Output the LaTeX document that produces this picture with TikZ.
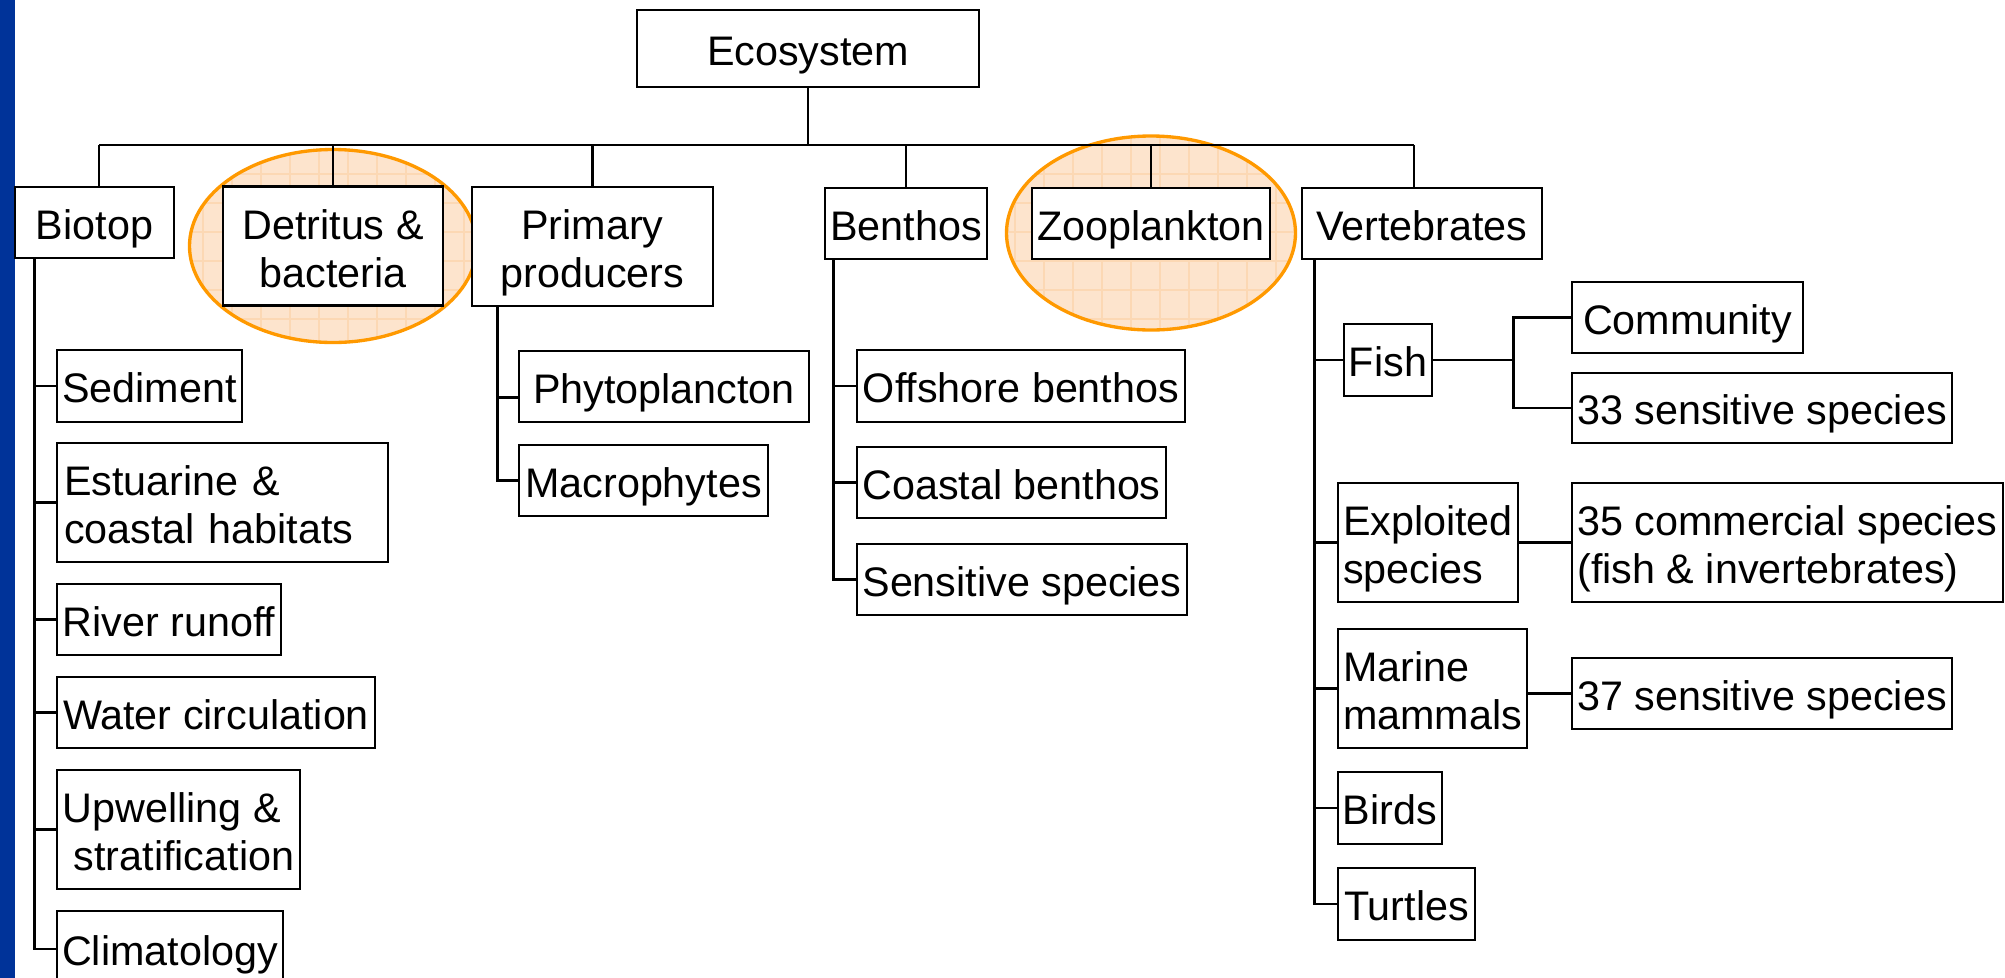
\documentclass[tikz,border=0pt]{standalone}
\usepackage{fontspec}
\setmainfont{Liberation Sans}
\usepackage{tikz}
\usetikzlibrary{positioning,calc,backgrounds}
\definecolor{barblue}{RGB}{0,51,153}
\definecolor{haloorange}{RGB}{255,153,0}
\definecolor{halofill}{RGB}{253,228,205}
\definecolor{halogrid}{RGB}{252,216,180}
\newcommand{\diagfont}{\fontsize{11.75pt}{13.66pt}\selectfont}
% struts for the two-line boxes
\newcommand{\firstln}{\rule{0pt}{0.51cm}}
\newcommand{\lastln}{\rule[-0.17cm]{0pt}{0.17cm}}
\tikzset{
    box/.style={
        draw,
        line width=0.8pt,
        fill=white,
        inner sep=0pt,
        align=left,
        font=\diagfont
    },
    topbox/.style={
        box,
        align=center
    },
    oneline/.style={
        text height=0.426cm,
        text depth=0.09cm,
        minimum height=0.71cm
    },
    twoline/.style={minimum height=1.19cm},
    link/.style={line width=0.75pt},
    halo/.style={
        draw=haloorange,
        line width=0.95pt
    }
}

\begin{document}
\begin{tikzpicture}
\useasboundingbox (0,0) rectangle (20.05,-9.78);
\fill[barblue] (0,0) rectangle (0.15,-9.78);

% TOP LEVEL
\node[topbox, oneline, minimum width=3.42cm, minimum height=0.77cm] (eco) at (8.08,-0.485)
{Ecosystem};

\node[topbox, oneline, minimum width=1.59cm] (biotop) at (0.945,-2.225)
{Biotop};

\node[topbox, twoline, minimum width=2.20cm] (detritus) at (3.33,-2.46)
{\firstln Detritus \&\\bacteria\lastln};

\node[topbox, twoline, minimum width=2.41cm] (primary) at (5.925,-2.465)
{\firstln Primary\\producers\lastln};

\node[topbox, oneline, minimum width=1.62cm] (benthos) at (9.06,-2.235)
{Benthos};

\node[topbox, oneline, minimum width=2.38cm] (zoo) at (11.51,-2.235)
{Zooplankton};

\node[topbox, oneline, minimum width=2.40cm] (verte) at (14.22,-2.235)
{Vertebrates};

\coordinate (bus) at (0,-1.45);
\coordinate (bioin) at ($(biotop.north)+(0.045,0)$);
\coordinate (vertin) at ($(verte.north)+(-0.08,0)$);
\draw[link] (eco.south) -- (eco.south |- bus);
\draw[link] (bus -| bioin) -- (bus -| vertin);
\draw[link] (bus -| bioin) -- (bioin);
\draw[link] (bus -| detritus.north) -- (detritus.north);
\draw[link] (bus -| primary.north) -- (primary.north);
\draw[link] (bus -| benthos.north) -- (benthos.north);
\draw[link] (bus -| zoo.north) -- (zoo.north);
\draw[link] (bus -| vertin) -- (vertin);

% highlighted compartments
\begin{scope}[on background layer]
\fill[halofill] (detritus.center) ellipse [x radius=1.435, y radius=0.965];
\begin{scope}
\clip (detritus.center) ellipse [x radius=1.435, y radius=0.965];
\draw[halogrid, line width=0.35pt, step=0.29] (1.8,-1.4) grid (4.8,-3.5);
\end{scope}
\draw[halo] (detritus.center) ellipse [x radius=1.435, y radius=0.965];

\fill[halofill] ($(zoo.center)+(0,-0.095)$) ellipse [x radius=1.445, y radius=0.97];
\begin{scope}
\clip ($(zoo.center)+(0,-0.095)$) ellipse [x radius=1.445, y radius=0.97];
\draw[halogrid, line width=0.35pt, step=0.29] (9.9,-1.2) grid (13.1,-3.4);
\end{scope}
\draw[halo] ($(zoo.center)+(0,-0.095)$) ellipse [x radius=1.445, y radius=0.97];
\end{scope}

% BIOTOP
\node[box, oneline, minimum width=1.85cm, minimum height=0.72cm] (sed) at (1.495,-3.86)
{Sediment};

\node[box, twoline, minimum width=3.31cm, text width=3.17cm] (estu) at (2.225,-5.025)
{\firstln Estuarine \&\\coastal habitats\lastln};

\node[box, oneline, minimum width=2.24cm] (river) at (1.69,-6.195)
{River runoff};

\node[box, oneline, minimum width=3.18cm] (water) at (2.16,-7.125)
{Water circulation};

\node[box, twoline, minimum width=2.43cm] (upw) at (1.785,-8.295)
{\firstln Upwelling \&\\\hspace*{0.11cm}stratification\lastln};

\node[box, oneline, minimum width=2.26cm, minimum height=0.76cm] (clima) at (1.70,-9.49)
{Climatology};

\coordinate (bt) at ($(biotop.south west)+(0.21,0)$);
\draw[link] (bt) |- (clima.west);
\draw[link] (bt |- sed.west) -- (sed.west);
\draw[link] (bt |- estu.west) -- (estu.west);
\draw[link] (bt |- river.west) -- (river.west);
\draw[link] (bt |- water.west) -- (water.west);
\draw[link] (bt |- upw.west) -- (upw.west);

% PRIMARY PRODUCERS
\node[topbox, oneline, minimum width=2.90cm] (phyto) at (6.64,-3.865)
{Phytoplancton};

\node[topbox, oneline, minimum width=2.49cm] (macro) at (6.435,-4.805)
{Macrophytes};

\coordinate (pt) at ($(primary.south west)+(0.27,0)$);
\draw[link] (pt) |- (macro.west);
\draw[link] ($(pt |- phyto.west)+(0,-0.11)$) -- ($(phyto.west)+(0,-0.11)$);

% BENTHOS
\node[box, oneline, minimum width=3.28cm, minimum height=0.72cm] (offs) at (10.21,-3.86)
{Offshore benthos};

\node[box, oneline, minimum width=3.09cm] (coast) at (10.115,-4.825)
{Coastal benthos};

\node[box, oneline, minimum width=3.30cm] (senss) at (10.22,-5.795)
{Sensitive species};

\coordinate (bnt) at ($(benthos.south west)+(0.10,0)$);
\draw[link] (bnt) |- (senss.west);
\draw[link] (bnt |- offs.west) -- (offs.west);
\draw[link] (bnt |- coast.west) -- (coast.west);

% VERTEBRATES
\node[box, oneline, minimum width=0.88cm, minimum height=0.72cm] (fish) at (13.88,-3.60)
{Fish};

\node[box, twoline, minimum width=1.80cm] (exploit) at (14.28,-5.425)
{\firstln Exploited\\species\lastln};

\node[box, twoline, minimum width=1.89cm] (marine) at (14.325,-6.885)
{\firstln Marine\\mammals\lastln};

\node[box, oneline, minimum width=1.04cm, minimum height=0.72cm] (birds) at (13.90,-8.08)
{Birds};

\node[box, oneline, minimum width=1.37cm, minimum height=0.72cm] (turtles) at (14.065,-9.04)
{Turtles};

\coordinate (vt) at ($(verte.south west)+(0.14,0)$);
\draw[link] (vt) |- (turtles.west);
\draw[link] (vt |- fish.west) -- (fish.west);
\draw[link] (vt |- exploit.west) -- (exploit.west);
\draw[link] (vt |- marine.west) -- (marine.west);
\draw[link] (vt |- birds.west) -- (birds.west);

% SPECIES GROUPS
\node[box, oneline, minimum width=2.31cm] (comm) at (16.875,-3.175)
{Community};

\node[box, oneline, minimum width=3.80cm, minimum height=0.70cm] (s33) at (17.62,-4.08)
{33 sensitive species};

\node[box, twoline, minimum width=4.31cm] (s35) at (17.875,-5.425)
{\firstln 35 commercial species\\(fish \& invertebrates)\lastln};

\node[box, oneline, minimum width=3.80cm] (s37) at (17.62,-6.935)
{37 sensitive species};

\coordinate (fb) at ($(fish.east)+(0.80,0)$);
\draw[link] (fish.east) -- (fb);
\draw[link] (comm.west) -| (fb) |- (s33.west);
\draw[link] (exploit.east) -- (s35.west);
\draw[link] (s37.west -| marine.east) -- (s37.west);

\end{tikzpicture}
\end{document}
